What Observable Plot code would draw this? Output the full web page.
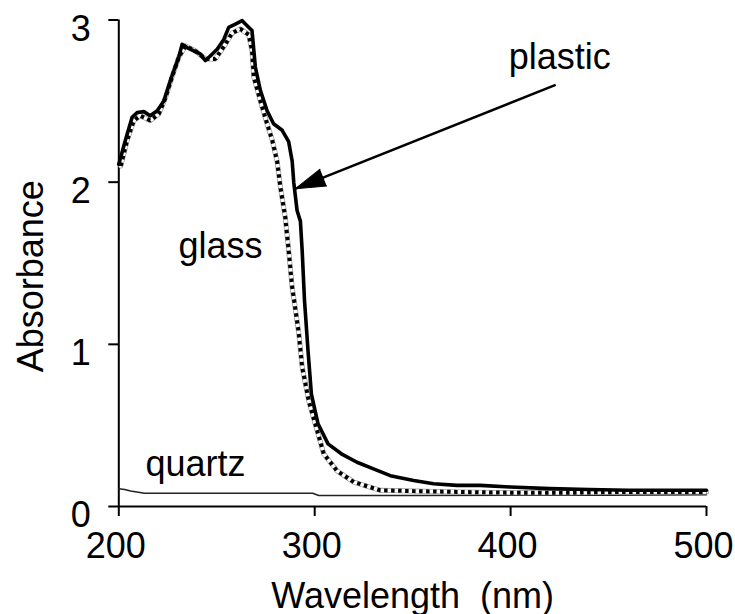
<!DOCTYPE html>
<html><head><meta charset="utf-8">
<script src="https://cdn.jsdelivr.net/npm/d3@7"></script>
<script src="https://cdn.jsdelivr.net/npm/@observablehq/plot@0.6"></script>
<style>
body{margin:0;background:#fff;}
svg{font-family:"Liberation Sans",Arial,Helvetica,sans-serif;white-space:pre;}
</style>
</head><body><div id="chart"></div>
<script>
const plasticWl  = [200,203.4,206.8,209.4,212.8,216,219.6,223,227,230.6,232.3,234.9,238.3,241.7,244.2,246.8,250.2,253.6,256.1,259.5,263,265.5,268,269.7,272.3,275.7,279,283.4,286.7,288.5,289.3,291,292.7,293.6,294.8,296.6,298.3,301.7,306.8,313.6,321.6,330,338.6,350.5,360.7,372.6,384.5,400,420,440,460,480,500];
const plasticAbs = [2.11,2.26,2.40,2.43,2.435,2.41,2.44,2.50,2.65,2.77,2.85,2.83,2.81,2.79,2.75,2.78,2.82,2.88,2.955,2.975,2.996,2.965,2.935,2.71,2.565,2.44,2.36,2.32,2.25,2.13,2.0,1.825,1.76,1.58,1.27,0.96,0.695,0.51,0.386,0.325,0.273,0.232,0.19,0.16,0.14,0.13,0.13,0.12,0.11,0.105,0.10,0.10,0.10];

const glassWl  = [201,204.3,207.7,211,216,220.4,223.8,227.2,230.6,234,239,244.2,249.3,254.4,257.9,262,266.3,268,268.9,272.3,275.7,278.3,280.8,282.5,285,286.7,288.5,289.5,291.9,293.6,297,301.2,304.6,311.4,320,333.5,350.5,372.6,400,430,460,500];
const glassAbs = [2.10,2.26,2.38,2.41,2.38,2.42,2.52,2.65,2.77,2.84,2.81,2.76,2.76,2.85,2.92,2.945,2.91,2.81,2.65,2.50,2.36,2.26,2.13,1.97,1.78,1.58,1.35,1.27,1.065,0.86,0.65,0.47,0.325,0.22,0.15,0.10,0.095,0.09,0.085,0.085,0.09,0.09];

const quartzWl  = [200,203,206,210,213,250,299,302,350,400,450,500];
const quartzAbs = [0.11,0.105,0.095,0.088,0.082,0.082,0.082,0.068,0.068,0.07,0.07,0.072];

const xTicks = [200,300,400,500];
const yTicks = [0,1,2,3];

const seriesLabels = [
  {name:"plastic", wl:399, abs:2.70},
  {name:"glass",   wl:230.5, abs:1.535},
  {name:"quartz",  wl:213.6, abs:0.19}
];
const arrowFrom = {wl:423, abs:2.6};
const arrowTo   = {wl:290.2, abs:1.96};

const toRows = (wl, ab) => wl.map((w,i) => ({wl:w, abs:ab[i]}));
const plastic = toRows(plasticWl, plasticAbs);
const glass = toRows(glassWl, glassAbs);
const quartz = toRows(quartzWl, quartzAbs);

const W = 735, H = 614;
const mL = 118.3, mR = 29, mT = 19.5, mB = 108;
const pxPerX = (W - mL - mR) / 300, pxPerY = (H - mT - mB) / 3;
const sdx = (arrowTo.wl - arrowFrom.wl) * pxPerX;
const sdy = -(arrowTo.abs - arrowFrom.abs) * pxPerY;
const headRot = (Math.atan2(sdx, -sdy) * 180 / Math.PI + 360) % 360;

const FS = 36;
const chart = Plot.plot({
  width: W, height: H,
  marginLeft: mL, marginRight: mR, marginTop: mT, marginBottom: mB,
  style: {fontSize: FS + "px", fontFamily: '"Liberation Sans",Arial,sans-serif', background: "#fff"},
  x: {domain: [200, 500]},
  y: {domain: [0, 3]},
  marks: [
    Plot.ruleX([200], {stroke: "#000", strokeWidth: 2}),
    Plot.ruleY([0], {stroke: "#000", strokeWidth: 2}),
    Plot.axisX({ticks: xTicks, tickSize: 10, tickFormat: () => "", strokeWidth: 2, label: null}),
    Plot.axisX({ticks: xTicks, tickSize: 0, tickPadding: 26, dx: -3, tickFormat: d => String(d), label: null, fontSize: FS}),
    Plot.axisY({ticks: yTicks, tickSize: 10, tickFormat: () => "", strokeWidth: 2, label: null}),
    Plot.axisY({ticks: yTicks, tickSize: 0, tickPadding: 28, dy: 9, tickFormat: d => String(d), label: null, fontSize: FS}),
    Plot.line(quartz, {x: "wl", y: "abs", stroke: "#222", strokeWidth: 1.5}),
    Plot.line(glass, {x: "wl", y: "abs", stroke: "#999", strokeWidth: 5}),
    Plot.line(glass, {x: "wl", y: "abs", stroke: "#fff", strokeWidth: 3.6}),
    Plot.line(glass, {x: "wl", y: "abs", stroke: "#000", strokeWidth: 4, strokeDasharray: "3.5,3.5", strokeLinecap: "butt", strokeLinejoin: "miter"}),
    Plot.line(plastic, {x: "wl", y: "abs", stroke: "#000", strokeWidth: 3.6}),
    Plot.link([{}], {x1: () => arrowFrom.wl, y1: () => arrowFrom.abs, x2: () => arrowTo.wl, y2: () => arrowTo.abs, stroke: "#000", strokeWidth: 2.5}),
    Plot.vector([arrowTo], {x: "wl", y: "abs", anchor: "end", shape: "spike", length: 30, r: 9, rotate: headRot, fill: "#000", stroke: "#000", strokeWidth: 1}),
    Plot.text(seriesLabels, {x: "wl", y: "abs", text: "name", textAnchor: "start", lineAnchor: "bottom", fontSize: FS, fill: "#000"}),
    Plot.text(["Wavelength  (nm)"], {frameAnchor: "bottom", dy: 101, lineAnchor: "bottom", textAnchor: "middle", fontSize: FS, fill: "#000"}),
    Plot.text(["Absorbance"], {frameAnchor: "left", dx: -76, dy: 13, rotate: -90, lineAnchor: "bottom", textAnchor: "middle", fontSize: FS, fill: "#000"})
  ]
});
document.getElementById("chart").append(chart);
</script>
</body></html>
